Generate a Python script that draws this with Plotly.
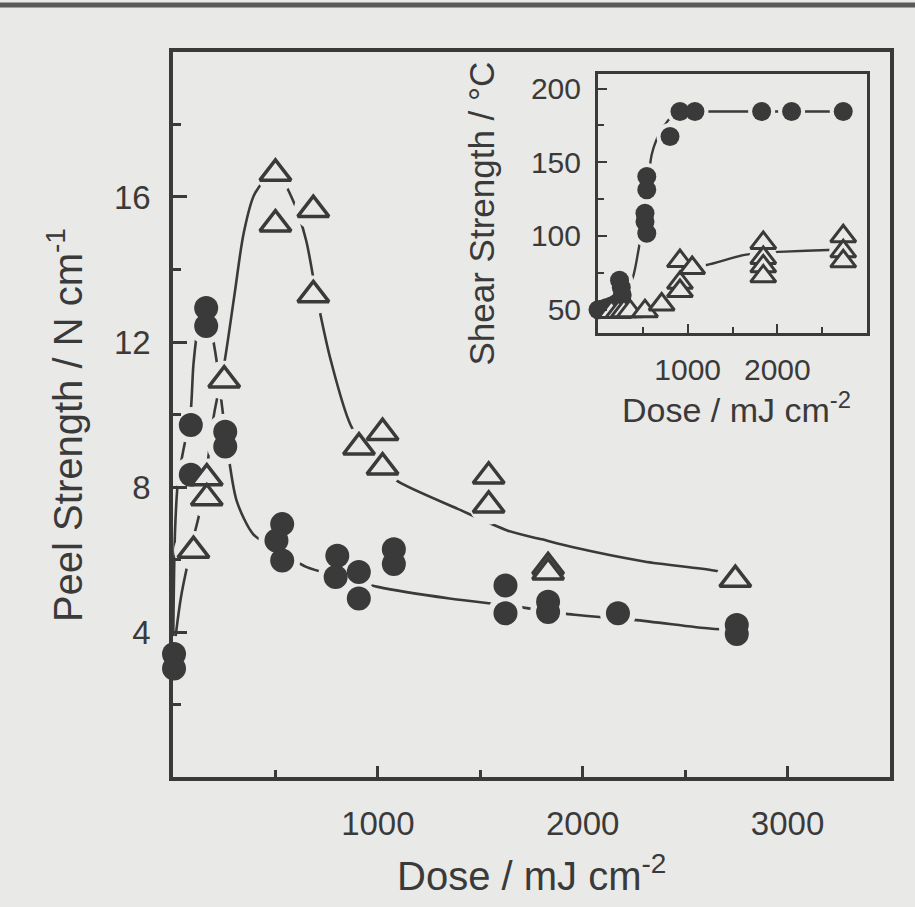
import plotly.graph_objects as go

# ---------------- data ----------------
# Main panel: peel strength vs dose
peel_circle_x = [5, 5, 87, 87, 162, 162, 255, 255, 533, 505, 533, 802, 794, 907, 907,
                 1078, 1078, 1623, 1623, 1831, 1831, 2172, 2752, 2752]
peel_circle_y = [3.4, 3.0, 9.71, 8.34, 12.94, 12.44, 9.53, 9.12, 6.98, 6.53, 5.98, 6.11, 5.52,
                 5.66, 4.93, 6.29, 5.88, 5.29, 4.52, 4.84, 4.56, 4.52, 4.2, 3.95]

peel_tri_x = [100, 165, 165, 250, 500, 500, 685, 685, 908, 1023, 1023, 1541, 1541, 1831, 1831, 2745]
peel_tri_y = [6.25, 8.25, 7.7, 10.95, 16.65, 15.25, 15.65, 13.3, 9.1, 9.5, 8.55, 8.3, 7.5, 5.8, 5.65, 5.45]

peel_circle_fit_x = [0, 10, 25, 50, 85, 100, 125, 160, 195, 215, 240, 275, 312, 392, 500,
                     650, 800, 1000, 1350, 1620, 1960, 2250, 2620, 2750]
peel_circle_fit_y = [3.2, 6.8, 8.2, 9.0, 10.0, 11.4, 12.5, 13.1, 12.1, 11.4, 10.2, 8.7, 7.6, 6.7, 6.3,
                     5.8, 5.55, 5.25, 4.93, 4.75, 4.48, 4.34, 4.1, 4.05]

peel_tri_fit_x = [0, 40, 100, 130, 165, 200, 250, 300, 345, 400, 500, 590, 650, 700, 770, 868,
                  1000, 1100, 1390, 1635, 1800, 1954, 2300, 2640, 2745]
peel_tri_fit_y = [3.3, 5.0, 6.6, 7.3, 8.5, 10.0, 11.4, 13.3, 15.0, 16.1, 16.7, 15.85, 14.8, 13.3, 11.5, 9.7,
                  8.6, 8.15, 7.4, 6.8, 6.56, 6.34, 5.95, 5.7, 5.56]

# Inset: shear strength vs dose
shear_circle_x = [0, 50, 100, 150, 200, 240, 260, 270, 524, 524, 544, 544, 544,
                  803, 914, 1081, 1825, 2159, 2735]
shear_circle_y = [50, 50.5, 51.5, 52.5, 54, 70, 65, 60, 115.4, 109.7, 101.8, 140.3, 131.3,
                  167.5, 184.4, 184.4, 184.4, 184.4, 184.4]

shear_tri_x = [150, 230, 290, 357, 524, 710, 914, 914, 914, 1050, 1843, 1843, 1843, 1843,
               2735, 2735, 2735]
shear_tri_y = [48.5, 48.5, 49, 49, 49, 53.5, 83, 68.2, 62.7, 78.3, 95.3, 85.1, 79.4, 72.6,
               99.8, 89.6, 82.8]

shear_circle_fit_x = [0, 200, 300, 394, 450, 500, 544, 598, 650, 720, 821, 920, 1200, 2735]
shear_circle_fit_y = [50, 52, 60, 73, 90, 108, 130, 155, 165, 173, 181, 184, 184.4, 184.4]

shear_tri_fit_x = [0, 400, 600, 710, 800, 880, 1000, 1211, 1620, 1843, 2085, 2567, 2735]
shear_tri_fit_y = [50, 50.5, 52, 55.5, 62, 72, 78.5, 80.3, 87, 88.5, 89.4, 90.5, 91]

# tick labels
main_x_ticks = [1000, 2000, 3000]
main_y_ticks = [4, 8, 12, 16]
inset_x_ticks = [1000, 2000]
inset_y_ticks = [50, 100, 150, 200]

# ---------------- style ----------------
BG = "#e9e9e7"
INK = "#3a3a3a"
FONT = "Liberation Sans, Arial, sans-serif"
W, H = 915, 907

fig = go.Figure()

halo_traces = []
mark_traces = []

def series(fx, fy, px, py, symbol, size, lw, halo, xaxis, yaxis, filled, mlw):
    fig.add_trace(go.Scatter(x=fx, y=fy, mode="lines", xaxis=xaxis, yaxis=yaxis,
                             line=dict(color=INK, width=lw, shape="spline", smoothing=0.8),
                             hoverinfo="skip", showlegend=False))
    halo_traces.append(go.Scatter(x=px, y=py, mode="markers", xaxis=xaxis, yaxis=yaxis,
                                  marker=dict(symbol="circle", size=size + halo, color=BG,
                                              line=dict(width=0)),
                                  hoverinfo="skip", showlegend=False, cliponaxis=False))
    if filled:
        mk = dict(symbol=symbol, size=size, color=INK, line=dict(width=0))
    else:
        mk = dict(symbol=symbol, size=size, color=BG, line=dict(width=mlw, color=INK))
    mark_traces.append(go.Scatter(x=px, y=py, mode="markers", xaxis=xaxis, yaxis=yaxis,
                                  marker=mk, showlegend=False, cliponaxis=False))

series(peel_circle_fit_x, peel_circle_fit_y, peel_circle_x, peel_circle_y,
       "circle", 24, 2.6, 12, "x", "y", True, 0)
series(peel_tri_fit_x, peel_tri_fit_y, peel_tri_x, peel_tri_y,
       "triangle-up", 27, 2.6, 12, "x", "y", False, 3.5)
series(shear_circle_fit_x, shear_circle_fit_y, shear_circle_x, shear_circle_y,
       "circle", 19, 2.4, 8, "x2", "y2", True, 0)
series(shear_tri_fit_x, shear_tri_fit_y, shear_tri_x, shear_tri_y,
       "triangle-up", 22, 2.4, 6, "x2", "y2", False, 3)

for t in halo_traces:
    fig.add_trace(t)
for t in mark_traces:
    fig.add_trace(t)

def px_x(p):
    return p / W

def px_y(p):
    return 1 - p / H

axis_common = dict(showgrid=False, zeroline=False, showline=True, linecolor=INK,
                   ticks="inside", tickcolor=INK, mirror=True,
                   tickfont=dict(family=FONT, color=INK))

fig.update_layout(
    width=W, height=H, margin=dict(l=0, r=0, t=0, b=0),
    paper_bgcolor=BG, plot_bgcolor=BG,
    font=dict(family=FONT, color=INK),
    xaxis=dict(axis_common, domain=[px_x(173), px_x(890)], range=[0, 3500],
               tickvals=main_x_ticks, ticktext=[str(v) for v in main_x_ticks],
               linewidth=3.5, ticklen=12, tickwidth=2.5, tickfont_size=33,
               ticklabelstandoff=14,
               minor=dict(ticks="inside", tick0=500, dtick=1000, ticklen=8, tickwidth=2.5,
                          tickcolor=INK),
               anchor="y"),
    yaxis=dict(axis_common, domain=[px_y(777), px_y(50)], range=[0, 20],
               tickvals=main_y_ticks, ticktext=[str(v) for v in main_y_ticks],
               linewidth=3.5, ticklen=14, tickwidth=2.5, tickfont_size=33,
               ticklabelstandoff=12,
               minor=dict(ticks="inside", tick0=2, dtick=4, ticklen=8, tickwidth=2.5,
                          tickcolor=INK),
               anchor="x"),
    xaxis2=dict(axis_common, domain=[px_x(598), px_x(867)], range=[0, 3000],
                tickvals=inset_x_ticks, ticktext=[str(v) for v in inset_x_ticks],
                linewidth=3, ticklen=9, tickwidth=2.2, tickfont_size=30,
                ticklabelstandoff=8,
                minor=dict(ticks="inside", tick0=500, dtick=1000, ticklen=6, tickwidth=2.2,
                           tickcolor=INK),
                anchor="y2"),
    yaxis2=dict(axis_common, domain=[px_y(332), px_y(72)], range=[34, 210],
                tickvals=inset_y_ticks, ticktext=[str(v) for v in inset_y_ticks],
                linewidth=3, ticklen=9, tickwidth=2.2, tickfont_size=30,
                ticklabelstandoff=8,
                minor=dict(ticks="inside", tick0=25, dtick=50, ticklen=6, tickwidth=2.2,
                           tickcolor=INK),
                anchor="x2"),
)

# Inset background to hide anything behind it
fig.add_shape(type="rect", xref="paper", yref="paper",
              x0=px_x(598), x1=px_x(867), y0=px_y(332), y1=px_y(72),
              fillcolor=BG, line=dict(width=0), layer="below")

# scan edge at top
fig.add_shape(type="line", xref="paper", yref="paper", x0=0, x1=1, y0=px_y(3), y1=px_y(3),
              line=dict(color="#5a5a5a", width=5))

ann_font = dict(family=FONT, color=INK)
fig.add_annotation(text="Dose / mJ cm<sup>-2</sup>", xref="paper", yref="paper",
                   x=px_x(531), y=px_y(873), showarrow=False,
                   font=dict(ann_font, size=40), xanchor="center", yanchor="middle")
fig.add_annotation(text="Peel Strength / N cm<sup>-1</sup>", xref="paper", yref="paper",
                   x=px_x(65), y=px_y(424), showarrow=False, textangle=-90,
                   font=dict(ann_font, size=40), xanchor="center", yanchor="middle")
fig.add_annotation(text="Dose / mJ cm<sup>-2</sup>", xref="paper", yref="paper",
                   x=px_x(736), y=px_y(406), showarrow=False,
                   font=dict(ann_font, size=34), xanchor="center", yanchor="middle")
fig.add_annotation(text="Shear Strength / °C", xref="paper", yref="paper",
                   x=px_x(482), y=px_y(212), showarrow=False, textangle=-90,
                   font=dict(ann_font, size=35), xanchor="center", yanchor="middle")

fig.write_html("out.html")
